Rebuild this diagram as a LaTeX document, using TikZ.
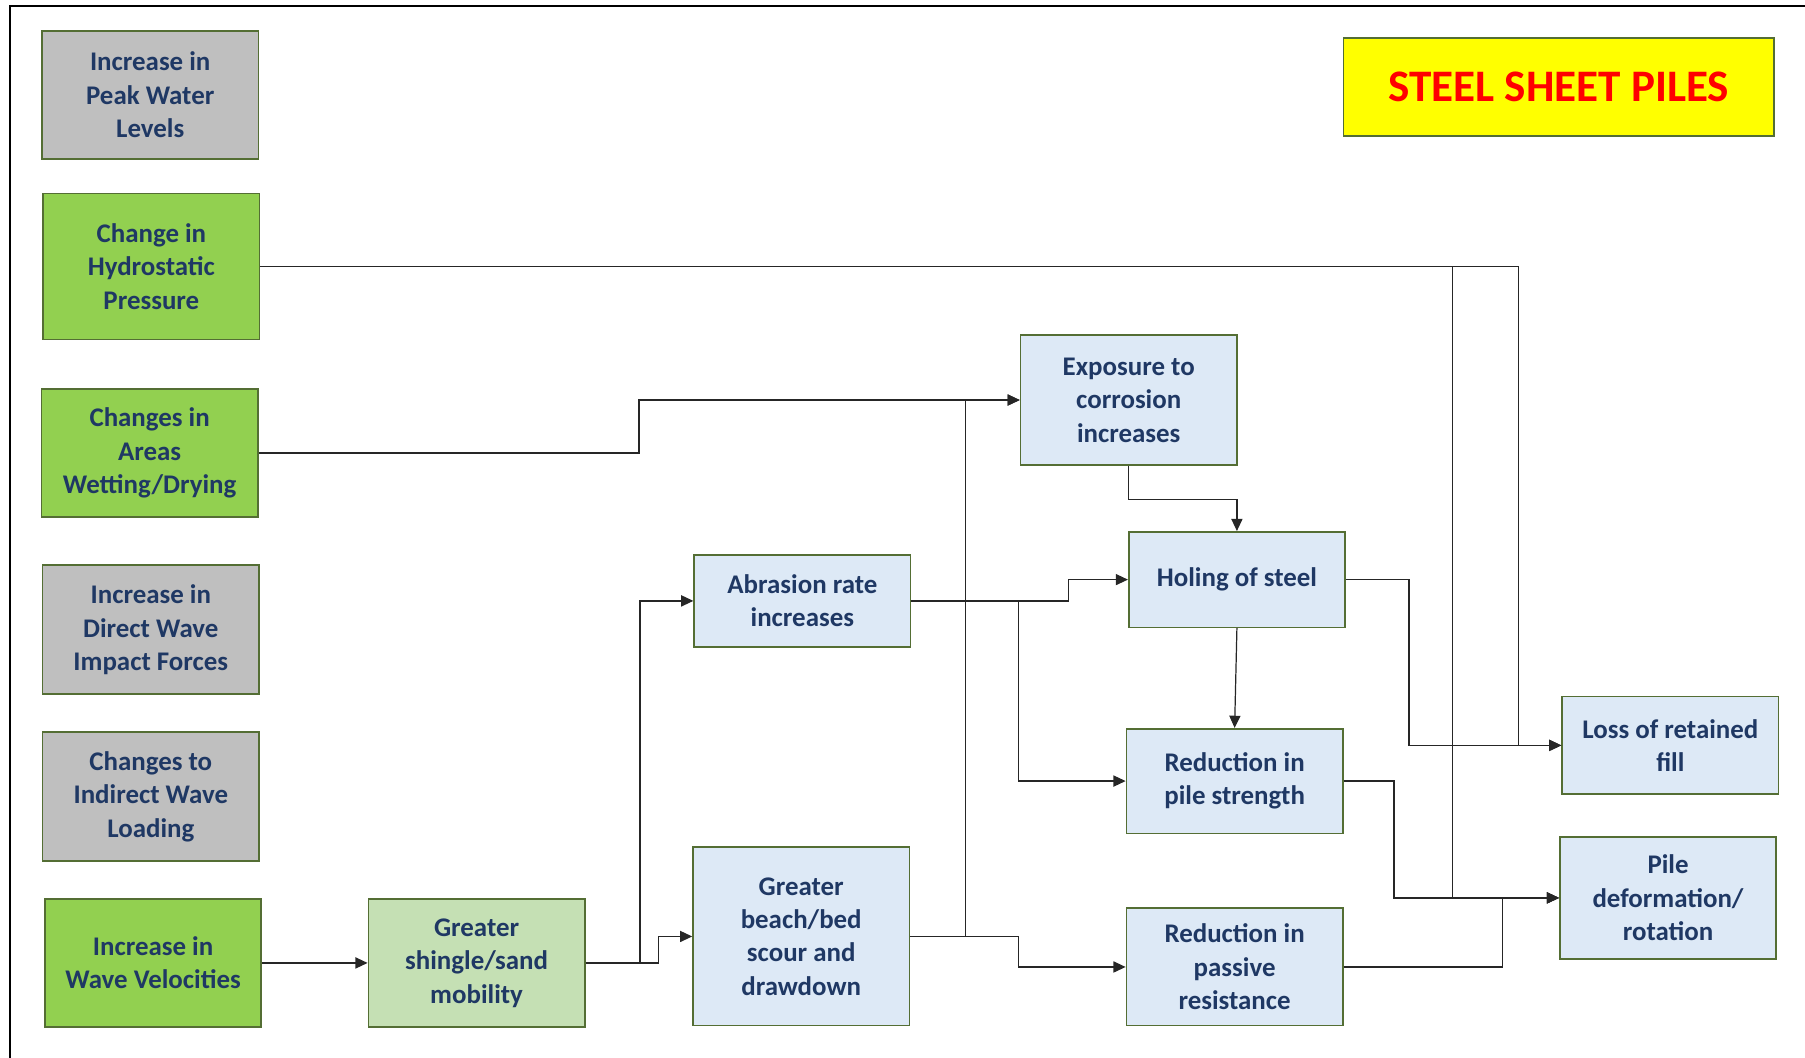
\documentclass[tikz,border=0pt]{standalone}
\usepackage{fontspec}
\setmainfont{Carlito}
\usetikzlibrary{arrows.meta,positioning}
\definecolor{shpGray}{RGB}{191,191,191}
\definecolor{shpGreen}{RGB}{146,208,80}
\definecolor{shpLight}{RGB}{197,224,180}
\definecolor{shpBlue}{RGB}{221,233,246}
\definecolor{shpEdge}{RGB}{84,110,52}
\definecolor{shpNavy}{RGB}{31,56,100}
\definecolor{shpYellow}{RGB}{255,255,0}
\definecolor{shpRed}{RGB}{255,0,0}

\begin{document}
\begin{tikzpicture}[x=0.02cm, y=-0.02cm,
  box/.style={rectangle, draw=shpEdge, line width=0.8pt, fill=#1,
              minimum width=3.76cm, inner sep=1pt, align=center,
              font=\fontsize{13.3}{16.5}\selectfont\bfseries,
              text=shpNavy},
  arr/.style={-{Triangle[length=6pt,width=5.5pt]}, line width=0.6pt,
              black!85}
]
  \useasboundingbox (0,0) rectangle (1568,919);
  \draw[line width=1.2pt] (8.5,919) -- (8.5,5) -- (1568,5);

  % drivers
  \node[box=shpGray, minimum height=2.22cm] (peak) at (130.5,82.5)
    {Increase in\\Peak Water\\Levels};
  \node[box=shpGreen, minimum height=2.54cm] (hydro) at (131.5,231.5)
    {Change in\\Hydrostatic\\Pressure};
  \node[box=shpGreen, minimum height=2.22cm] (wet) at (130,393.5)
    {Changes in\\Areas\\Wetting/Drying};
  \node[box=shpGray, minimum height=2.24cm] (direct) at (131,547)
    {Increase in\\Direct Wave\\Impact Forces};
  \node[box=shpGray, minimum height=2.24cm] (indirect) at (131,692)
    {Changes to\\Indirect Wave\\Loading};
  \node[box=shpGreen, minimum height=2.22cm] (wvel) at (133,836.5)
    {Increase in\\Wave Velocities};

  % processes
  \node[box=shpLight, minimum height=2.22cm] (shingle) at (414,836.5)
    {Greater\\shingle/sand\\mobility};
  \node[box=shpBlue, minimum height=1.60cm] (abras) at (697,522)
    {Abrasion rate\\increases};
  \node[box=shpBlue, minimum height=3.10cm] (scour) at (696,813.5)
    {Greater\\beach/bed\\scour and\\drawdown};
  \node[box=shpBlue, minimum height=2.26cm] (expo) at (980.5,347.5)
    {Exposure to\\corrosion\\increases};
  \node[box=shpBlue, minimum height=1.66cm] (hole) at (1074.5,503.5)
    {Holing of steel};
  \node[box=shpBlue, minimum height=1.82cm] (pstr) at (1072.5,678.5)
    {Reduction in\\pile strength};
  \node[box=shpBlue, minimum height=2.04cm] (pres) at (1072.5,840)
    {Reduction in\\passive\\resistance};

  % outcomes
  \node[box=shpBlue, minimum height=1.70cm] (loss) at (1451,647.5)
    {Loss of retained\\fill};
  \node[box=shpBlue, minimum height=2.12cm] (deform) at (1449,780)
    {Pile\\deformation/\\rotation};

  \node[box=shpYellow, minimum width=7.48cm, minimum height=1.70cm,
        text=shpRed, font=\fontsize{22.3}{26}\selectfont\bfseries]
        (title) at (1354,75.5) {STEEL SHEET PILES};

  % connectors
  \draw[arr] (wvel) -- (shingle);
  \draw[arr] (hole.south) -- (pstr.north);
  \draw[arr] (expo.south) -- ++(0,29) -| (hole.north);
  \draw[arr] (hydro.east -| 1262,0) |- (deform.west);
  \foreach \a/\x/\b in {hydro/1319/loss, wet/555/expo, shingle/556/abras,
      shingle/572/scour, abras/928/hole, abras/885/pstr, scour/839/expo,
      scour/885/pres, hole/1224/loss, pstr/1211/deform, pres/1305/deform}
    \draw[arr] (\a.east) -| (\x,0 |- \b.west) -- (\b.west);
\end{tikzpicture}
\end{document}
